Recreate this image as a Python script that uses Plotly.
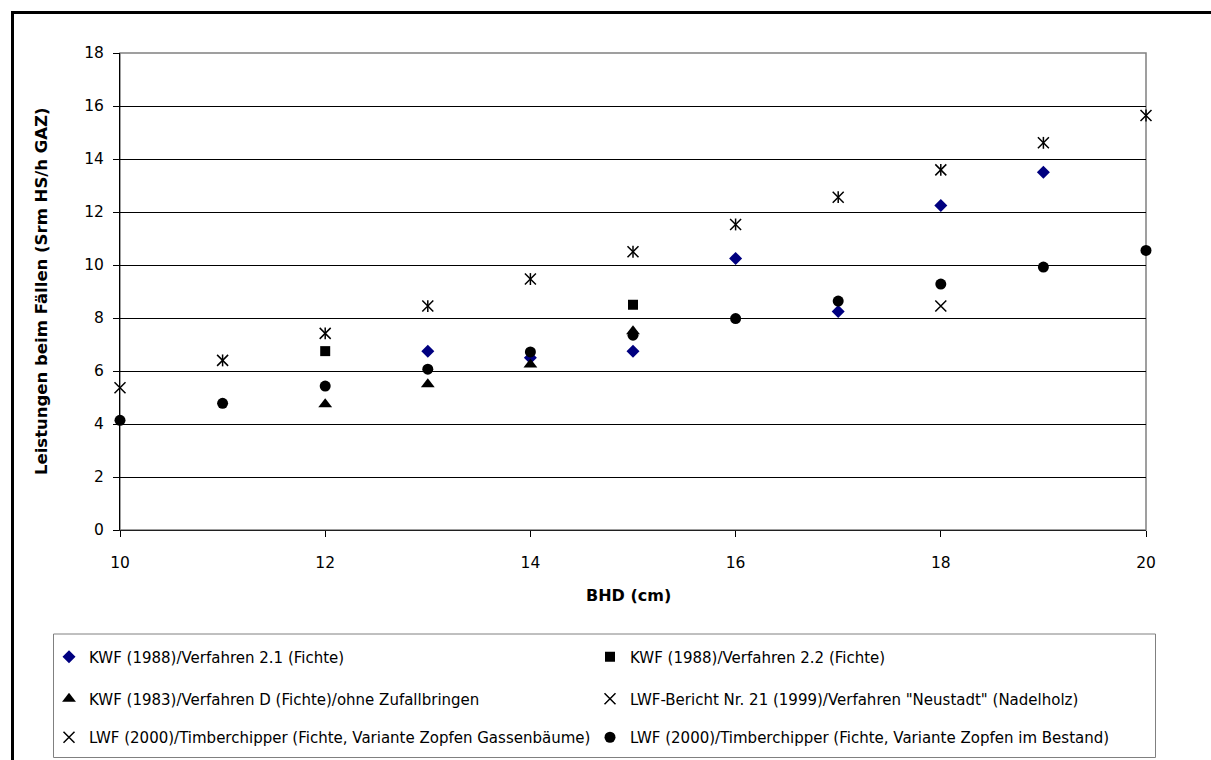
import plotly.graph_objects as go

W, H = 1211, 760
ML, MR, MT, MB = 120, 65, 53, 230

# ---- data ----
bhd_kwf21 = [13, 14, 15, 16, 17, 18, 19]
val_kwf21 = [6.75, 6.5, 6.75, 10.25, 8.25, 12.25, 13.5]

bhd_kwf22 = [12, 15]
val_kwf22 = [6.75, 8.5]

bhd_kwfD = [12, 13, 14, 15]
val_kwfD = [4.75, 5.5, 6.25, 7.5]

bhd_neustadt = [10, 18]
val_neustadt = [5.37, 8.45]

bhd_gassen = [11, 12, 13, 14, 15, 16, 17, 18, 19, 20]
val_gassen = [6.4, 7.42, 8.45, 9.47, 10.5, 11.53, 12.56, 13.59, 14.61, 15.64]

bhd_bestand = [10, 11, 12, 13, 14, 15, 16, 17, 18, 19, 20]
val_bestand = [4.14, 4.78, 5.43, 6.07, 6.72, 7.35, 7.98, 8.64, 9.28, 9.92, 10.55]

names = [
    "KWF (1988)/Verfahren 2.1 (Fichte)",
    "KWF (1988)/Verfahren 2.2 (Fichte)",
    "KWF (1983)/Verfahren D (Fichte)/ohne Zufallbringen",
    "LWF-Bericht Nr. 21 (1999)/Verfahren \"Neustadt\" (Nadelholz)",
    "LWF (2000)/Timberchipper (Fichte, Variante Zopfen Gassenbäume)",
    "LWF (2000)/Timberchipper (Fichte, Variante Zopfen im Bestand)",
]

x_ticks = [10, 12, 14, 16, 18, 20]
y_ticks = [0, 2, 4, 6, 8, 10, 12, 14, 16, 18]
x_title = "BHD (cm)"
y_title = "Leistungen beim Fällen (Srm HS/h GAZ)"

FONT = "DejaVu Sans"
NAVY = "#000080"

fig = go.Figure()

fig.add_trace(go.Scatter(x=bhd_kwf21, y=val_kwf21, mode="markers", name=names[0],
                         marker=dict(symbol="diamond", size=10, color=NAVY),
                         cliponaxis=False, legend="legend"))
fig.add_trace(go.Scatter(x=bhd_kwf22, y=val_kwf22, mode="markers", name=names[1],
                         marker=dict(symbol="square", size=10, color="black"),
                         cliponaxis=False, legend="legend2"))
fig.add_trace(go.Scatter(x=bhd_kwfD, y=val_kwfD, mode="markers", name=names[2],
                         marker=dict(symbol="triangle-up", size=12, color="black"),
                         cliponaxis=False, legend="legend3"))
fig.add_trace(go.Scatter(x=bhd_neustadt, y=val_neustadt, mode="markers", name=names[3],
                         marker=dict(symbol="x-thin-open", size=11, color="black",
                                     line=dict(color="black", width=1.5)),
                         cliponaxis=False, legend="legend4"))
fig.add_trace(go.Scatter(x=bhd_gassen, y=val_gassen, mode="markers", name=names[4],
                         marker=dict(symbol="x-thin-open", size=11, color="black",
                                     line=dict(color="black", width=1.5)),
                         cliponaxis=False, legend="legend5", legendgroup="gassen"))
fig.add_trace(go.Scatter(x=bhd_gassen, y=val_gassen, mode="markers", name=names[4],
                         marker=dict(symbol="line-ns-open", size=8.5, color="black",
                                     line=dict(color="black", width=1.5)),
                         cliponaxis=False, showlegend=False, legendgroup="gassen"))
fig.add_trace(go.Scatter(x=bhd_bestand, y=val_bestand, mode="markers", name=names[5],
                         marker=dict(symbol="circle", size=11, color="black"),
                         cliponaxis=False, legend="legend6"))


def px_x(px):
    return (px - ML) / (W - ML - MR)


def px_y(py):
    return (H - MB - py) / (H - MT - MB)


shapes = [
    # outer chart frame
    dict(type="rect", xref="paper", yref="paper",
         x0=px_x(12.5), x1=px_x(1220), y0=px_y(12.5), y1=px_y(775),
         line=dict(color="black", width=3), fillcolor="rgba(0,0,0,0)", layer="below"),
    # legend box
    dict(type="rect", xref="paper", yref="paper",
         x0=px_x(53.5), x1=px_x(1155.5), y0=px_y(634), y1=px_y(757.5),
         line=dict(color="#808080", width=1), fillcolor="rgba(0,0,0,0)", layer="below"),
    # plot area border
    dict(type="rect", xref="paper", yref="paper", x0=0, x1=1, y0=0, y1=1,
         line=dict(color="#808080", width=1.5), fillcolor="rgba(0,0,0,0)", layer="between"),
]

annotations = [
    dict(text="<b>" + x_title + "</b>", xref="paper", yref="paper",
         x=px_x(628), y=px_y(595), xanchor="center", yanchor="middle", showarrow=False,
         font=dict(family=FONT, size=16, color="black")),
    dict(text="<b>" + y_title + "</b>", xref="paper", yref="paper", textangle=-90,
         x=px_x(41), y=px_y(291), xanchor="center", yanchor="middle", showarrow=False,
         font=dict(family=FONT, size=16.5, color="black")),
]

leg_font = dict(family=FONT, size=15, color="black")
col_x = [49, 590]
row_y = [657, 699, 737.5]
legends = {}
for i in range(6):
    key = "legend" if i == 0 else f"legend{i+1}"
    r, c = divmod(i, 2)
    legends[key] = dict(x=col_x[c] / W, y=1 - row_y[r] / H, xref="container", yref="container",
                        xanchor="left", yanchor="middle", font=leg_font,
                        bgcolor="rgba(0,0,0,0)", borderwidth=0)

fig.update_layout(
    width=W, height=H,
    margin=dict(l=ML, r=MR, t=MT, b=MB, autoexpand=False),
    paper_bgcolor="white", plot_bgcolor="white",
    font=dict(family=FONT, color="black"),
    shapes=shapes,
    annotations=annotations,
    **legends,
)

fig.update_xaxes(range=[10, 20], tickvals=x_ticks, ticktext=[str(v) for v in x_ticks],
                 showgrid=False, zeroline=False,
                 showline=True, linecolor="#202020", linewidth=1,
                 ticks="outside", ticklen=6, tickcolor="black", tickwidth=1,
                 tickfont=dict(family=FONT, size=15.5, color="black"), ticklabelstandoff=12)
fig.update_yaxes(range=[0, 18], tickvals=y_ticks, ticktext=[str(v) for v in y_ticks],
                 showgrid=True, gridcolor="black", gridwidth=1, zeroline=False,
                 showline=True, linecolor="black", linewidth=1,
                 ticks="outside", ticklen=6, tickcolor="black", tickwidth=1,
                 tickfont=dict(family=FONT, size=15.5, color="black"), ticklabelstandoff=6)

fig.write_html("out.html")
